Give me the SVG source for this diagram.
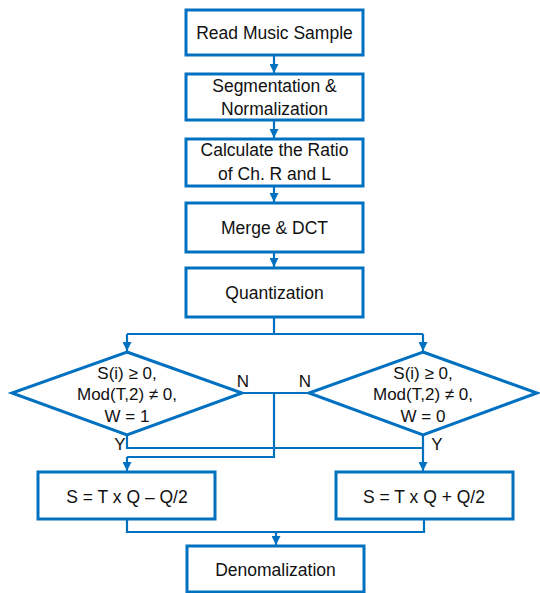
<svg xmlns="http://www.w3.org/2000/svg" width="540" height="593" viewBox="0 0 540 593">
<style>
.box{fill:#fff;stroke:#0070C0;stroke-width:3}
.ln{fill:none;stroke:#0070C0;stroke-width:2.2}
.t{font-family:"Liberation Sans",Arial,sans-serif;font-size:17.5px;fill:#111;text-anchor:middle}
.d{font-family:"Liberation Sans",Arial,sans-serif;font-size:17px;fill:#111;text-anchor:middle}
</style>
<defs>
<marker id="ah" markerUnits="userSpaceOnUse" markerWidth="10" markerHeight="9" refX="9" refY="4.5" orient="auto">
<path d="M0,0 L9,4.5 L0,9 Z" fill="#0070C0"/>
</marker>
</defs>
<g id="connectors">
<line class="ln" x1="274" y1="55" x2="274" y2="73" marker-end="url(#ah)"/>
<line class="ln" x1="274" y1="120" x2="274" y2="138" marker-end="url(#ah)"/>
<line class="ln" x1="274" y1="186" x2="274" y2="202" marker-end="url(#ah)"/>
<line class="ln" x1="274" y1="252" x2="274" y2="267" marker-end="url(#ah)"/>
<path class="ln" d="M274,317 V334 M127,334 H423"/>
<line class="ln" x1="127" y1="334" x2="127" y2="351" marker-end="url(#ah)"/>
<line class="ln" x1="423" y1="334" x2="423" y2="351" marker-end="url(#ah)"/>
<path class="ln" d="M242,393 H309 M274,393 V457 H127"/>
<path class="ln" d="M127,435 V448 H423"/>
<line class="ln" x1="127" y1="457" x2="127" y2="471" marker-end="url(#ah)"/>
<line class="ln" x1="423" y1="435" x2="423" y2="471" marker-end="url(#ah)"/>
<path class="ln" d="M127,519 V532 H424 V519"/>
<line class="ln" x1="276" y1="532" x2="276" y2="545" marker-end="url(#ah)"/>
<text class="d" x="243" y="387">N</text>
<text class="d" x="305" y="387">N</text>
<text class="d" x="120" y="450">Y</text>
<text class="d" x="437" y="450">Y</text>
</g>
<g id="n1"><rect class="box" x="186" y="10" width="177" height="45"/><text class="t" x="274.5" y="39">Read Music Sample</text></g>
<g id="n2"><rect class="box" x="186" y="74" width="177" height="46"/><text class="t" x="274.5" y="92">Segmentation &amp;</text><text class="t" x="274.5" y="115">Normalization</text></g>
<g id="n3"><rect class="box" x="186" y="139" width="177" height="47"/><text class="t" x="274.5" y="156">Calculate the Ratio</text><text class="t" x="274.5" y="180">of Ch. R and L</text></g>
<g id="n4"><rect class="box" x="186" y="203" width="177" height="49"/><text class="t" x="274.5" y="234">Merge &amp; DCT</text></g>
<g id="n5"><rect class="box" x="186" y="268" width="177" height="49"/><text class="t" x="274.5" y="299">Quantization</text></g>
<g id="d1"><polygon class="box" points="127,352 242,393 127,435 12,393"/><text class="d" x="127" y="379">S(i) ≥ 0,</text><text class="d" x="127" y="400">Mod(T,2) ≠ 0,</text><text class="d" x="127" y="422">W = 1</text></g>
<g id="d2"><polygon class="box" points="423,352 537,393 423,435 309,393"/><text class="d" x="423" y="379">S(i) ≥ 0,</text><text class="d" x="423" y="400">Mod(T,2) ≠ 0,</text><text class="d" x="423" y="422">W = 0</text></g>
<g id="b1"><rect class="box" x="38" y="472" width="177" height="47"/><text class="t" x="127" y="503">S = T x Q – Q/2</text></g>
<g id="b2"><rect class="box" x="336" y="472" width="177" height="47"/><text class="t" x="424" y="503">S = T x Q + Q/2</text></g>
<g id="n6"><rect class="box" x="187" y="546" width="177" height="46"/><text class="t" x="275.5" y="576">Denomalization</text></g>
</svg>
